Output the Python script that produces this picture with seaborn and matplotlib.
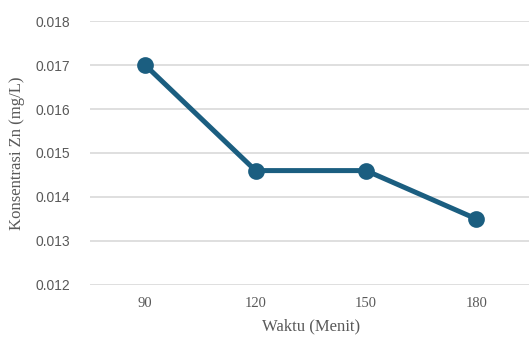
import numpy as np
import pandas as pd
import matplotlib
matplotlib.use("Agg")
import matplotlib.pyplot as plt
import seaborn as sns

waktu = ["90", "120", "150", "180"]
konsentrasi = [0.0170, 0.0146, 0.0146, 0.0135]
y_ticks = [0.012, 0.013, 0.014, 0.015, 0.016, 0.017, 0.018]

df = pd.DataFrame({"Waktu": waktu, "Konsentrasi": konsentrasi})

sns.set_style("white")
line_color = "#1B5E80"
text_color = "#595959"

fig = plt.figure(figsize=(5.29, 3.40), dpi=100)
ax = fig.add_axes([0.170, 0.162, 0.835, 0.776])

sns.pointplot(data=df, x="Waktu", y="Konsentrasi", color=line_color,
              markers="o", ax=ax)
for l in ax.lines:
    l.set_linewidth(3.6)
    l.set_markersize(10)

ax.set_xlim(-0.5, 3.5)
ax.set_ylim(0.012, 0.018)
ax.set_yticks(y_ticks)
ax.set_yticklabels([f"{v:.3f}" for v in y_ticks], family="Liberation Sans",
                   fontsize=10, color=text_color)
ax.set_xticks(range(len(waktu)))
ax.set_xticklabels(waktu, family="Liberation Serif", fontsize=10.5, color=text_color)
ax.yaxis.grid(True, color="#D9D9D9", linewidth=1.2)
ax.set_axisbelow(True)
for s in ax.spines.values():
    s.set_visible(False)
ax.tick_params(axis="y", length=0, pad=14)
ax.tick_params(axis="x", length=0, pad=9)
ax.set_xlabel("Waktu (Menit)", family="Liberation Serif", fontsize=12,
              color=text_color, labelpad=6)
ax.set_ylabel("Konsentrasi Zn (mg/L)", family="Liberation Serif", fontsize=12,
              color=text_color, labelpad=8)

fig.savefig("out.png", dpi=100)
